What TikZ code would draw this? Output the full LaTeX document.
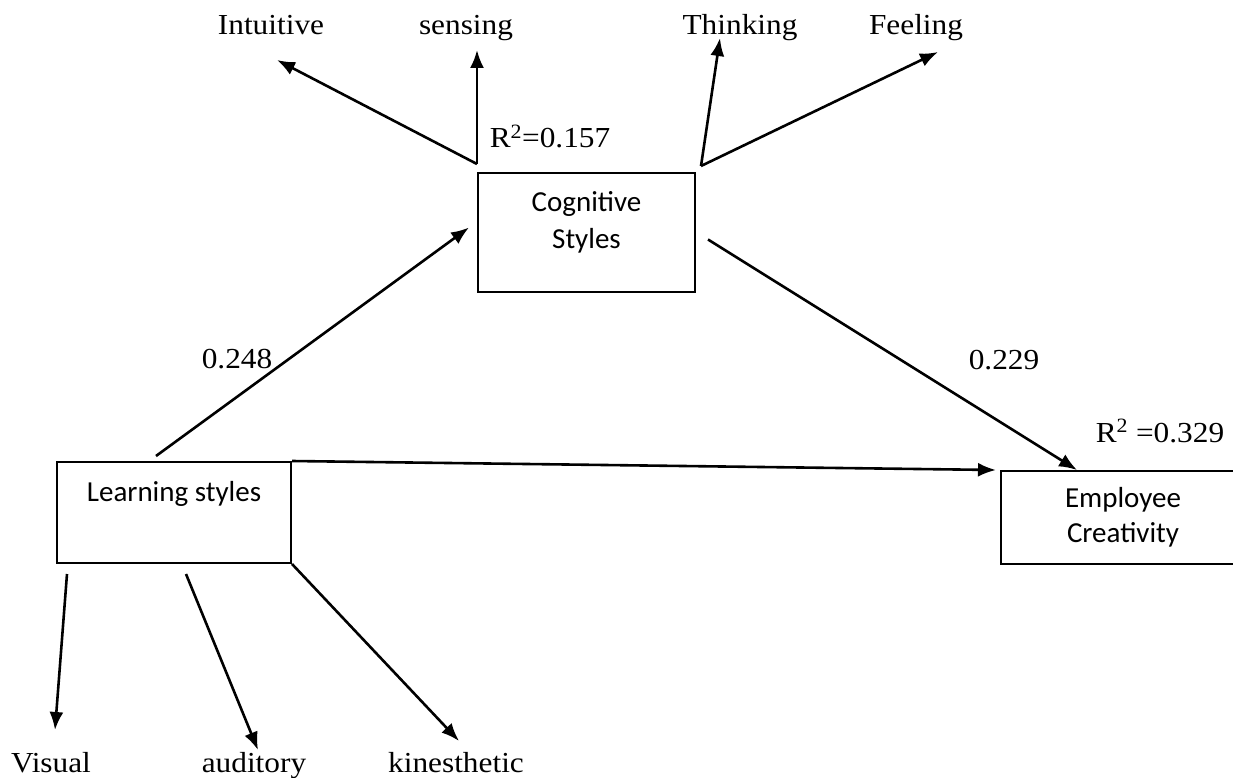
\documentclass[tikz,border=0pt]{standalone}
\usepackage{fontspec}
\setmainfont{Liberation Serif}[FakeStretch=1.08]
\newfontfamily\calibri{Carlito}
\usetikzlibrary{arrows.meta,positioning}

\begin{document}
\begin{tikzpicture}[x=1pt,y=-1pt,>={Latex[length=18pt,width=14pt]},
    box/.style={rectangle, draw, line width=2pt, inner sep=0pt,
      font=\calibri\fontsize{29}{37}\selectfont, align=center},
    trait/.style={anchor=base, inner sep=0pt, font=\fontsize{29}{34}\selectfont},
    coef/.style={trait},
    con/.style={->, line width=2.6pt}
    ]
    \path[fill=white, use as bounding box] (0,0) rectangle (1233,778);
    \clip (0,0) rectangle (1233,778);

    \node (n1) [box, anchor=base, minimum width=234pt, text height=39pt, text depth=62pt] at (174,501) {Learning styles};
    \node (n2) [box, minimum width=217pt, text height=75pt, text depth=44pt] at (586.5,232.5) {Cognitive\\Styles};
    \node (n3) [box, minimum width=244pt, minimum height=93pt,
      font=\calibri\fontsize{29}{35}\selectfont] at (1123,517.5) {Employee\\Creativity};

    \node (t1) [trait] at (271,35) {Intuitive};
    \node (t2) [trait] at (466,35) {sensing};
    \node (t3) [trait] at (740,35) {Thinking};
    \node (t4) [trait] at (916,35) {Feeling};
    \node (t5) [trait] at (51,772) {Visual};
    \node (t6) [trait] at (254,772) {auditory};
    \node (t7) [trait] at (456,772) {kinesthetic};

    \node (c1) [coef] at (550,148) {R\textsuperscript{2}=0.157};
    \node (c2) [coef] at (237,368) {0.248};
    \node (c3) [coef] at (1004,369) {0.229};
    \node (c4) [coef] at (1160,442) {R\textsuperscript{2} =0.329};

    % arrow tips below/above the trait names
    \coordinate (t1 tip) at (277,60);
    \coordinate (t2 tip) at (477,50);
    \coordinate (t3 tip) at (720,38);
    \coordinate (t4 tip) at (938,52);
    \coordinate (t5 tip) at (55,730);
    \coordinate (t6 tip) at (258,750);
    \coordinate (t7 tip) at (459,741);

    \draw [con] ([yshift=8pt]n2.north west) -- (t1 tip);
    \draw [con] ([yshift=8pt]n2.north west) -- (t2 tip);
    \draw [con] ([xshift=5pt,yshift=6pt]n2.north east) -- (t3 tip);
    \draw [con] ([xshift=5pt,yshift=6pt]n2.north east) -- (t4 tip);
    \draw [con] ([xshift=-18pt,yshift=5pt]n1.north) -- ([xshift=-8pt,yshift=5pt]n2.west);
    \draw [con] ([xshift=12pt,yshift=-7pt]n2.east) -- ([xshift=77pt]n3.north west);
    \draw [con] (n1.north east) -- ([xshift=-4pt]n3.north west);
    \draw [con] ([xshift=11pt,yshift=-10pt]n1.south west) -- (t5 tip);
    \draw [con] ([xshift=12pt,yshift=-10pt]n1.south) -- (t6 tip);
    \draw [con] (n1.south east) -- (t7 tip);
\end{tikzpicture}
\end{document}
